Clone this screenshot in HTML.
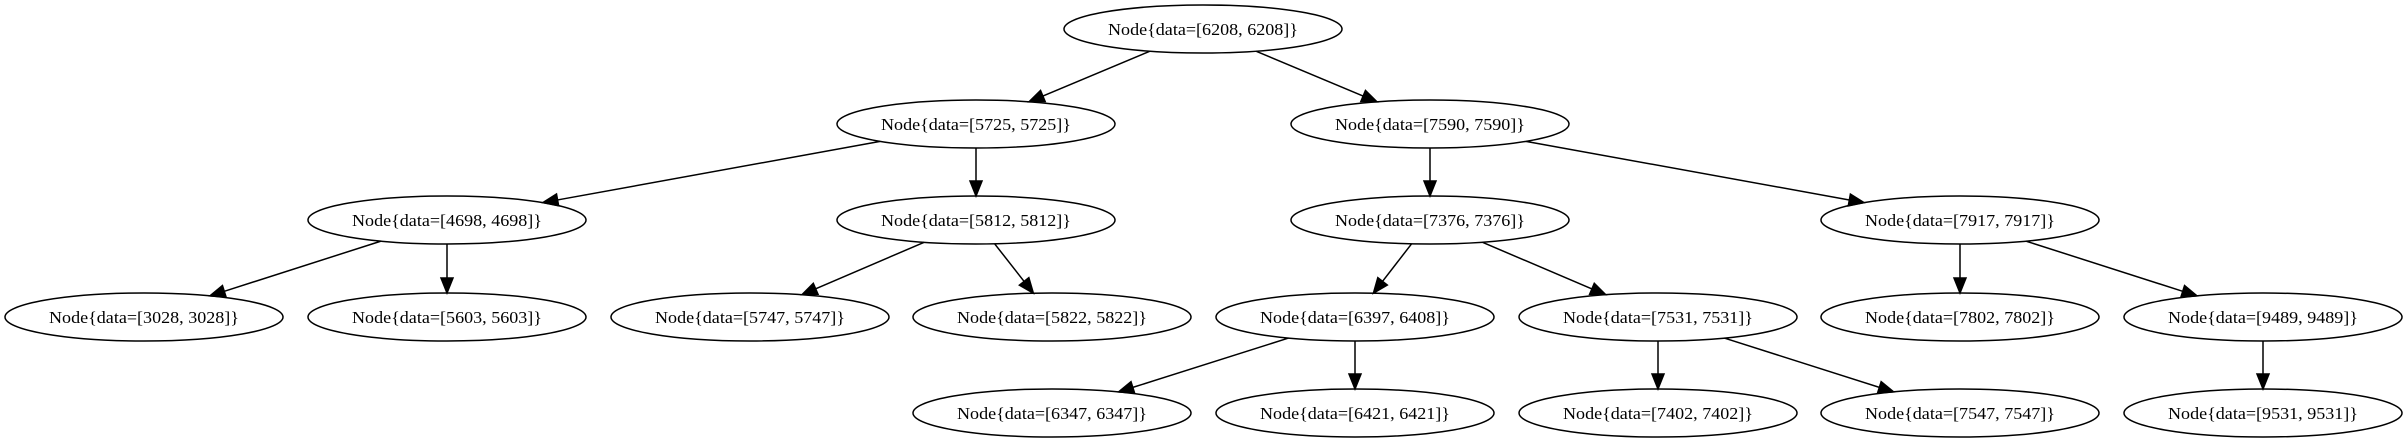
<!DOCTYPE html>
<html><head><meta charset="utf-8"><style>html,body{margin:0;padding:0;background:#fff}svg{display:block}</style></head>
<body>
<svg id="s" xmlns="http://www.w3.org/2000/svg" width="2408" height="443" viewBox="0 0 2408 443">
<rect width="2408" height="443" fill="#fff"/>
<g id="n" font-family="'Liberation Serif', serif" font-size="17" text-anchor="middle" fill="#000">
<ellipse cx="1203" cy="29" rx="139" ry="24" fill="none" stroke="#000" stroke-width="1.5"/><text x="1203" y="35">Node{data=[6208, 6208]}</text>
<ellipse cx="976" cy="124" rx="139" ry="24" fill="none" stroke="#000" stroke-width="1.5"/><text x="976" y="130">Node{data=[5725, 5725]}</text>
<ellipse cx="1430" cy="124" rx="139" ry="24" fill="none" stroke="#000" stroke-width="1.5"/><text x="1430" y="130">Node{data=[7590, 7590]}</text>
<ellipse cx="447" cy="220" rx="139" ry="24" fill="none" stroke="#000" stroke-width="1.5"/><text x="447" y="226">Node{data=[4698, 4698]}</text>
<ellipse cx="976" cy="220" rx="139" ry="24" fill="none" stroke="#000" stroke-width="1.5"/><text x="976" y="226">Node{data=[5812, 5812]}</text>
<ellipse cx="1430" cy="220" rx="139" ry="24" fill="none" stroke="#000" stroke-width="1.5"/><text x="1430" y="226">Node{data=[7376, 7376]}</text>
<ellipse cx="1960" cy="220" rx="139" ry="24" fill="none" stroke="#000" stroke-width="1.5"/><text x="1960" y="226">Node{data=[7917, 7917]}</text>
<ellipse cx="144" cy="317" rx="139" ry="24" fill="none" stroke="#000" stroke-width="1.5"/><text x="144" y="323">Node{data=[3028, 3028]}</text>
<ellipse cx="447" cy="317" rx="139" ry="24" fill="none" stroke="#000" stroke-width="1.5"/><text x="447" y="323">Node{data=[5603, 5603]}</text>
<ellipse cx="750" cy="317" rx="139" ry="24" fill="none" stroke="#000" stroke-width="1.5"/><text x="750" y="323">Node{data=[5747, 5747]}</text>
<ellipse cx="1052" cy="317" rx="139" ry="24" fill="none" stroke="#000" stroke-width="1.5"/><text x="1052" y="323">Node{data=[5822, 5822]}</text>
<ellipse cx="1355" cy="317" rx="139" ry="24" fill="none" stroke="#000" stroke-width="1.5"/><text x="1355" y="323">Node{data=[6397, 6408]}</text>
<ellipse cx="1658" cy="317" rx="139" ry="24" fill="none" stroke="#000" stroke-width="1.5"/><text x="1658" y="323">Node{data=[7531, 7531]}</text>
<ellipse cx="1960" cy="317" rx="139" ry="24" fill="none" stroke="#000" stroke-width="1.5"/><text x="1960" y="323">Node{data=[7802, 7802]}</text>
<ellipse cx="2263" cy="317" rx="139" ry="24" fill="none" stroke="#000" stroke-width="1.5"/><text x="2263" y="323">Node{data=[9489, 9489]}</text>
<ellipse cx="1052" cy="413" rx="139" ry="24" fill="none" stroke="#000" stroke-width="1.5"/><text x="1052" y="419">Node{data=[6347, 6347]}</text>
<ellipse cx="1355" cy="413" rx="139" ry="24" fill="none" stroke="#000" stroke-width="1.5"/><text x="1355" y="419">Node{data=[6421, 6421]}</text>
<ellipse cx="1658" cy="413" rx="139" ry="24" fill="none" stroke="#000" stroke-width="1.5"/><text x="1658" y="419">Node{data=[7402, 7402]}</text>
<ellipse cx="1960" cy="413" rx="139" ry="24" fill="none" stroke="#000" stroke-width="1.5"/><text x="1960" y="419">Node{data=[7547, 7547]}</text>
<ellipse cx="2263" cy="413" rx="139" ry="24" fill="none" stroke="#000" stroke-width="1.5"/><text x="2263" y="419">Node{data=[9531, 9531]}</text>
</g>
<g id="e" stroke="#000" stroke-width="1.5" fill="#000"></g>
</svg>
<script>
var ts=document.querySelectorAll('#n text');for(var i=0;i<ts.length;i++){ts[i].setAttribute('textLength','190');ts[i].setAttribute('lengthAdjust','spacingAndGlyphs');}
var E=[[1203,29,976,124],[1203,29,1430,124],[976,124,447,220],[976,124,976,220],[1430,124,1430,220],[1430,124,1960,220],
[447,220,144,317],[447,220,447,317],[976,220,750,317],[976,220,1052,317],[1430,220,1355,317],[1430,220,1658,317],
[1960,220,1960,317],[1960,220,2263,317],[1355,317,1052,413],[1355,317,1355,413],[1658,317,1658,413],[1658,317,1960,413],[2263,317,2263,413]];
var rx=139,ry=24,g=document.getElementById('e'),h='';
function t(dx,dy){return 1/Math.sqrt(dx*dx/(rx*rx)+dy*dy/(ry*ry));}
E.forEach(function(a){var dx=a[2]-a[0],dy=a[3]-a[1];var L=Math.hypot(dx,dy),ux=dx/L,uy=dy/L;
var k=t(dx,dy);var sx=a[0]+dx*k,sy=a[1]+dy*k;var ex=a[2]-dx*k,ey=a[3]-dy*k;
var bx=ex-ux*15,by=ey-uy*15;var px=-uy*6,py=ux*6;
h+='<line x1="'+sx+'" y1="'+sy+'" x2="'+bx+'" y2="'+by+'"/>';
h+='<polygon points="'+ex+','+ey+' '+(bx+px)+','+(by+py)+' '+(bx-px)+','+(by-py)+'"/>';});
g.innerHTML=h;
</script>
</body></html>
